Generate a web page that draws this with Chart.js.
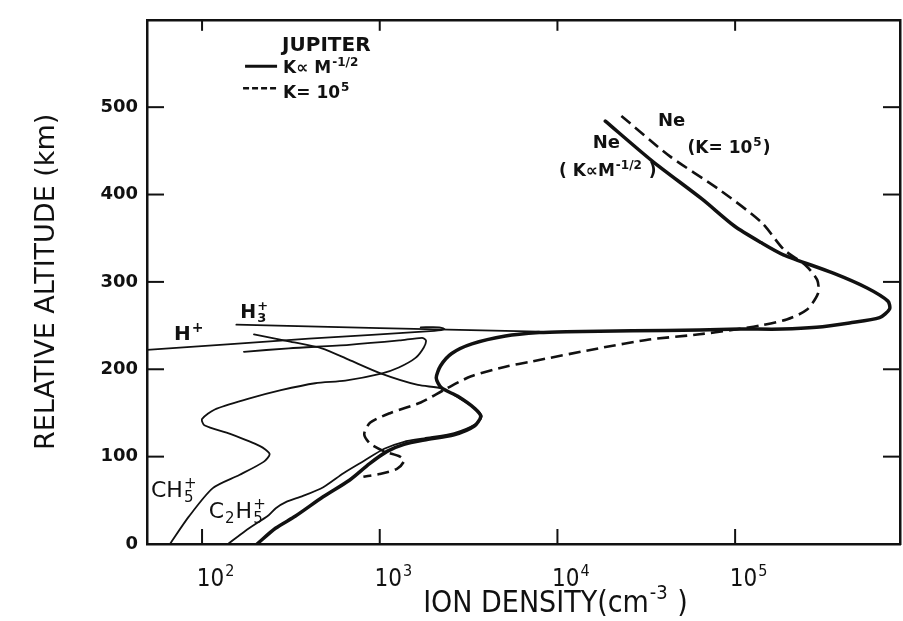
<!DOCTYPE html>
<html>
<head>
<meta charset="utf-8">
<script src="https://cdn.jsdelivr.net/npm/chart.js@4.4.1/dist/chart.umd.min.js"></script>
<style>
  html, body { margin: 0; padding: 0; background: #fff; }
</style>
</head>
<body>
<canvas id="chart" width="903" height="621"></canvas>
<script>
// Jupiter ionosphere: ion density (cm^-3) against relative altitude (km)

// electron density Ne, K proportional to M^-1/2 (thick solid)
const neSolidX = [1.86e4, 3.43e4, 6.5e4, 9.9e4, 1.4e5, 1.87e5, 3.57e5, 5.53e5, 7.24e5, 7.4e5, 6.5e5, 4.4e5, 2.87e5, 1.85e5, 1.06e5, 6.3e4, 2.64e4, 1.12e4, 7.9e3, 5.1e3, 3.3e3, 2.54e3, 2.2e3, 2.08e3, 2.22e3, 2.75e3, 3.43e3, 3.7e3, 3.41e3, 2.62e3, 1.78e3, 1.37e3, 1.1e3, 877, 675, 480, 336, 259, 204];
const neSolidY = [484, 438, 395, 364, 345, 331, 310, 293, 278, 269, 259, 253, 248, 246, 246, 245, 244, 243, 242, 238, 229, 218, 204, 190, 179, 169, 155, 146, 135, 125, 119, 114, 106, 92, 73, 54, 32, 18, 0];

// electron density Ne, K = 10^5 (dashed)
const neDashX = [2.29e4, 4.28e4, 8.1e4, 1.41e5, 1.88e5, 2.49e5, 2.9e5, 2.93e5, 2.53e5, 1.95e5, 1.37e5, 9.6e4, 6.3e4, 3.28e4, 1.71e4, 7.2e3, 5.1e3, 3.27e3, 2.33e3, 1.7e3, 1.15e3, 885, 818, 882, 1.06e3, 1.3e3, 1.37e3, 1.25e3, 995, 809];
const neDashY = [490, 444, 406, 368, 337, 319, 302, 287, 268, 257, 250, 245, 240, 234, 224, 209, 203, 192, 177, 162, 150, 139, 126, 115, 106, 100, 95, 86, 80, 77];

// single ions (thin)
const hPlusX = [48, 400, 2030, 2310, 2160, 1700];
const hPlusY = [222, 235, 244, 246, 248, 248];

const h3PlusX = [156, 1000, 7900];
const h3PlusY = [251, 247, 243];

const ch5X = [66, 84, 115, 162, 222, 240, 212, 144, 103, 100, 118, 181, 278, 433, 640, 1020, 1280, 1590, 1770, 1820, 1730, 1290, 671, 308, 172];
const ch5Y = [0, 31, 64, 79, 94, 103, 112, 126, 136, 143, 154, 166, 176, 184, 187, 195, 202, 213, 225, 233, 236, 233, 228, 224, 220];

const c2h5X = [140, 175, 237, 260, 296, 370, 481, 625, 813, 1060, 1370, 1780, 2620, 3450, 3750, 3450, 2750, 2250, 1640, 1020, 668, 472, 308, 196];
const c2h5Y = [0, 15, 33, 41, 48, 55, 65, 81, 95, 109, 117, 121, 127, 137, 146, 155, 168, 178, 182, 195, 211, 224, 232, 240];

// axes
const xMin = 49, xMax = 8.47e5;
const yMin = 0, yMax = 600, yStep = 100;
const xTickValues = [1e2, 1e3, 1e4, 1e5];

const ink = '#111';
const face = '"DejaVu Sans", "Liberation Sans", sans-serif';
const narrowFace = '"DejaVu Sans Condensed", "Liberation Sans Narrow", "DejaVu Sans", sans-serif';

// text labels inside the plot, anchored in data units (density, altitude)
const notes = [
  { text: ['Ne'], x: 3.68e4, y: 478, size: 18, weight: 'bold' },
  { text: ['(K= 10', { sup: '5' }, ')'], x: 5.4e4, y: 447, size: 17, weight: 'bold' },
  { text: ['Ne'], x: 1.58e4, y: 453, size: 18, weight: 'bold' },
  { text: ['( K\u221DM', { sup: '-1/2' }, ' )'], x: 1.02e4, y: 421, size: 17, weight: 'bold' },
  { text: ['H', { sup: '+' }], x: 69.5, y: 233, size: 20, weight: 'bold' },
  { text: ['H', { sub: '3', sup: '+' }], x: 164, y: 259, size: 19, weight: 'bold' },
  { text: ['CH', { sub: '5', sup: '+' }], x: 51.6, y: 54, size: 22, weight: 'normal' },
  { text: ['C', { sub: '2' }, 'H', { sub: '5', sup: '+' }], x: 109, y: 30, size: 22, weight: 'normal' }
];

function pts(xs, ys) {
  return xs.map((v, i) => ({ x: v, y: ys[i] }));
}

function curve(label, xs, ys, width, dash) {
  return {
    label: label,
    data: pts(xs, ys),
    showLine: true,
    borderColor: ink,
    borderWidth: width,
    borderDash: dash || [],
    borderCapStyle: dash ? 'butt' : 'round',
    pointRadius: 0,
    tension: 0.25
  };
}

function line(ctx, x1, y1, x2, y2) {
  ctx.beginPath();
  ctx.moveTo(x1, y1);
  ctx.lineTo(x2, y2);
  ctx.stroke();
}

// writes a string made of pieces, some of them raised or lowered
function richText(ctx, pieces, x, y, size, weight, family) {
  let cx = x;
  const small = Math.round(size * 0.68);
  pieces.forEach(p => {
    if (typeof p === 'string') {
      ctx.font = weight + ' ' + size + 'px ' + family;
      ctx.fillText(p, cx, y);
      cx += ctx.measureText(p).width;
    } else {
      ctx.font = weight + ' ' + small + 'px ' + family;
      let w = 0;
      if (p.sup) {
        ctx.fillText(p.sup, cx + 1, y - size * 0.42);
        w = ctx.measureText(p.sup).width;
      }
      if (p.sub) {
        ctx.fillText(p.sub, cx + 1, y + size * 0.25);
        w = Math.max(w, ctx.measureText(p.sub).width);
      }
      cx += w + 2;
    }
  });
  return cx - x;
}

function richWidth(ctx, pieces, size, weight, family) {
  let w = 0;
  const small = Math.round(size * 0.68);
  pieces.forEach(p => {
    if (typeof p === 'string') {
      ctx.font = weight + ' ' + size + 'px ' + family;
      w += ctx.measureText(p).width;
    } else {
      ctx.font = weight + ' ' + small + 'px ' + family;
      w += Math.max(ctx.measureText(p.sup || '').width, ctx.measureText(p.sub || '').width) + 2;
    }
  });
  return w;
}

const paperMarks = {
  id: 'paperMarks',
  afterDraw(chart) {
    const { ctx, chartArea: a, scales: { x, y } } = chart;
    ctx.save();
    ctx.strokeStyle = ink;
    ctx.fillStyle = ink;
    ctx.textBaseline = 'alphabetic';
    ctx.textAlign = 'left';

    // inward tick marks on all four sides
    ctx.lineWidth = 2;
    xTickValues.forEach(v => {
      const px = x.getPixelForValue(v);
      line(ctx, px, a.bottom, px, a.bottom - 15);
      line(ctx, px, a.top, px, a.top + 11);
    });
    y.ticks.forEach(t => {
      if (t.value <= yMin || t.value >= yMax) return;
      const py = y.getPixelForValue(t.value);
      line(ctx, a.left, py, a.left + 17, py);
      line(ctx, a.right, py, a.right - 17, py);
    });

    // decade labels 10^n
    xTickValues.forEach(v => {
      const exp = String(Math.round(Math.log10(v)));
      const pieces = ['10', { sup: exp }];
      const w = richWidth(ctx, pieces, 24, 'normal', narrowFace);
      const cx = x.getPixelForValue(v) + 14;
      richText(ctx, pieces, cx - w / 2, a.bottom + 42, 24, 'normal', narrowFace);
    });

    // x axis title
    const title = ['ION DENSITY(cm', { sup: '-3' }, ' )'];
    const tw = richWidth(ctx, title, 30, 'normal', narrowFace);
    richText(ctx, title, (a.left + a.right) / 2 + 32 - tw / 2, a.bottom + 68, 30, 'normal', narrowFace);

    // curve labels
    notes.forEach(n => {
      richText(ctx, n.text, x.getPixelForValue(n.x), y.getPixelForValue(n.y), n.size, n.weight, face);
    });

    // key in the upper left
    const kx = x.getPixelForValue(282), ky = y.getPixelForValue(564);
    ctx.font = 'bold 20px ' + face;
    ctx.fillText('JUPITER', kx, ky);
    ctx.lineWidth = 3;
    line(ctx, kx - 37, ky + 15, kx - 5, ky + 15);
    richText(ctx, ['K\u221D M', { sup: '-1/2' }], kx + 1, ky + 22, 17, 'bold', face);
    ctx.lineWidth = 2.4;
    ctx.setLineDash([6, 3]);
    line(ctx, kx - 39, ky + 37, kx - 5, ky + 37);
    ctx.setLineDash([]);
    richText(ctx, ['K= 10', { sup: '5' }], kx + 1, ky + 47, 17, 'bold', face);

    ctx.restore();
  }
};

const border = { display: true, color: ink, width: 2.5 };

new Chart(document.getElementById('chart'), {
  type: 'scatter',
  data: {
    datasets: [
      curve('Ne (K \u221D M^-1/2)', neSolidX, neSolidY, 3.5),
      curve('Ne (K = 10^5)', neDashX, neDashY, 2.6, [12, 6]),
      curve('H+', hPlusX, hPlusY, 1.8),
      curve('H3+', h3PlusX, h3PlusY, 1.8),
      curve('CH5+', ch5X, ch5Y, 1.8),
      curve('C2H5+', c2h5X, c2h5Y, 1.8)
    ]
  },
  options: {
    responsive: false,
    animation: false,
    devicePixelRatio: 1,
    layout: { padding: { top: 12, left: 0, right: 0, bottom: 0 } },
    plugins: {
      legend: { display: false },
      tooltip: { enabled: false }
    },
    scales: {
      x: {
        type: 'logarithmic',
        position: 'bottom',
        min: xMin,
        max: xMax,
        grid: { display: false, drawTicks: false },
        border: border,
        ticks: { display: false },
        afterFit(s) { s.height = 77; }
      },
      x2: {
        type: 'logarithmic',
        position: 'top',
        min: xMin,
        max: xMax,
        grid: { display: false, drawTicks: false },
        border: border,
        ticks: { display: false },
        afterFit(s) { s.height = 0; }
      },
      y: {
        type: 'linear',
        position: 'left',
        min: yMin,
        max: yMax,
        grid: { display: false, drawTicks: false },
        border: border,
        ticks: {
          stepSize: yStep,
          padding: 9,
          color: ink,
          font: { family: face, size: 18, weight: 'bold' },
          callback: v => (v === yMax ? '' : v)
        },
        title: {
          display: true,
          text: 'RELATIVE ALTITUDE (km)',
          color: ink,
          font: { family: face, size: 27, weight: 'normal' },
          padding: { top: 31, bottom: 0 }
        },
        afterFit(s) { s.width = 147; }
      },
      y2: {
        type: 'linear',
        position: 'right',
        min: yMin,
        max: yMax,
        grid: { display: false, drawTicks: false },
        border: border,
        ticks: { display: false },
        afterFit(s) { s.width = 3; }
      }
    }
  },
  plugins: [paperMarks]
});
</script>
</body>
</html>
